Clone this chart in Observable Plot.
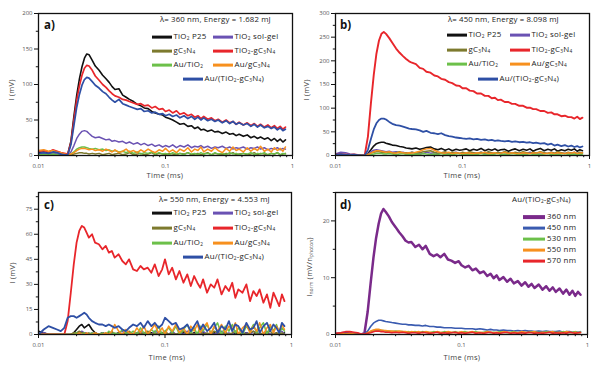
<!DOCTYPE html>
<html><head><meta charset="utf-8">
<script src="https://cdn.jsdelivr.net/npm/d3@7"></script>
<script src="https://cdn.jsdelivr.net/npm/@observablehq/plot@0.6"></script>
<style>
body{margin:0;background:#fff;font-family:"Open Sans",sans-serif}
#wrap{position:relative;width:600px;height:369px;overflow:hidden;background:#fff}
.panel{position:absolute}
.ov{position:absolute;white-space:nowrap;color:#222;line-height:1}
.ov sub{font-size:0.6em;vertical-align:-0.25em;line-height:0}
.sw{position:absolute;height:2.8px;transform:translateY(-50%)}
</style>
</head><body><div id="wrap"></div>
<script>
// ---------- shared time axis (ms) ----------
const time = [
0.0100,0.0110,0.0120,0.0130,0.0140,0.0150,0.0160,0.0170,
0.0180,0.0190,0.0200,0.0210,0.0220,0.0230,0.0240,0.0250,
0.0265,0.028,0.030,0.032,0.034,0.036,0.038,0.040,
0.043,0.046,0.049,0.052,0.056,0.060,0.064,0.068,
0.073,0.078,0.083,0.089,0.095,0.100,0.107,0.114,
0.122,0.130,0.140,0.150,0.160,0.170,0.180,0.190,
0.200,0.215,0.230,0.245,0.260,0.280,0.300,0.320,
0.340,0.360,0.380,0.410,0.440,0.470,0.500,0.530,
0.560,0.600,0.640,0.680,0.720,0.760,0.800,0.840,
0.880];

// ---------- tick labels ----------
const xTicks = [0.01, 0.1, 1];
const xMinor = [0.02,0.03,0.04,0.05,0.06,0.07,0.08,0.09,0.2,0.3,0.4,0.5,0.6,0.7,0.8,0.9];
const yTicksA = [0,50,100,150,200];
const yMinorA = [25,75,125,175];
const yTicksB = [0,50,100,150,200,250,300];
const yMinorB = [25,75,125,175,225,275];
const yTicksC = [0,15,30,45,60,75];
const yMinorC = [7.5,22.5,37.5,52.5,67.5,82.5];
const yTicksD = [0,10,20];
const yMinorD = [5,15,25];

// ---------- series names / colours ----------
const seriesNames = ["TiO<sub>2</sub> P25","TiO<sub>2</sub> sol-gel","gC<sub>3</sub>N<sub>4</sub>","TiO<sub>2</sub>-gC<sub>3</sub>N<sub>4</sub>","Au/TiO<sub>2</sub>","Au/gC<sub>3</sub>N<sub>4</sub>","Au/(TiO<sub>2</sub>-gC<sub>3</sub>N<sub>4</sub>)"];
const seriesColors = ["#111111","#6a52b3","#7d7a2e","#e8262b","#6cc04a","#f7901e","#2e4fa5"];
const dNames = ["360 nm","450 nm","530 nm","550 nm","570 nm"];
const dColors = ["#7a2a8a","#3a5bb0","#6cc04a","#f7901e","#e8262b"];

// ---------- panel a : 360 nm ----------
const aP25 = [4,5,3,4,5,3,2,2, 20,55,85,108,125,137,143,142, 134,126,120,113,108,103,97,93, 94,85,82,79,76,72,70,67, 66,62,60,58,57,54,52,50, 47,44,45,41,42,38,40,36, 37,34,36,33,34,31,33,30, 31,28,30,27,29,25,27,24, 26,23,25,21,24,20,23,19, 22];
const aSolGel = [2,3,2,3,2,1,1,0, 5,14,24,30,34,35,34,31, 27,25,26,24,22,23,20,21, 19,20,17,19,16,18,15,17, 14,16,13,15,12,14,12,15, 11,14,12,15,11,13,12,14, 11,13,10,12,11,13,10,12, 9,11,10,12,9,11,10,12, 9,11,8,10,9,11,8,10, 9];
const aGCN = [1,1,0,1,0,0,0,0, 1,2,3,4,4,3,3,2, 3,2,3,1,2,3,1,2, 3,1,2,4,1,2,3,1, 2,4,1,3,2,1,3,2, 1,3,2,4,1,2,3,1, 2,4,1,3,2,1,3,2, 4,1,2,3,1,2,4,1, 3,2,1,3,2,4,1,2, 3];
const aTiGCN = [6,7,5,8,6,4,3,2, 18,50,78,98,113,123,127,126, 120,112,106,100,96,91,87,84, 82,79,78,76,74,72,73,70, 71,67,69,65,66,62,64,60, 63,58,60,56,58,54,56,52, 55,51,53,49,51,47,50,46, 48,44,47,43,46,42,45,41, 44,40,43,39,42,38,41,37, 40];
const aAuTi = [1,2,1,2,1,0,0,0, 2,5,9,11,12,12,11,10, 9,10,8,9,7,8,6,7, 5,6,4,6,3,5,2,4, 3,5,2,4,2,3,1,4, 2,3,1,4,2,3,1,4, 2,3,1,4,2,3,1,4, 2,3,1,3,2,4,1,3, 2,4,1,3,2,4,1,3, 2];
const aAuGCN = [7,8,6,7,5,4,2,1, 2,4,7,9,10,10,9,8, 9,7,8,6,9,7,5,8, 4,6,9,5,7,4,8,5, 9,6,4,8,6,10,5,8, 4,9,6,11,5,9,7,12, 5,9,6,11,7,4,10,6, 12,7,9,5,11,6,10,7, 13,6,9,5,11,7,10,6, 12];
const aAuTiGCN = [3,4,3,5,4,2,1,1, 15,42,68,86,99,107,110,109, 104,99,95,90,87,82,78,75, 79,73,71,69,67,65,66,62, 63,60,61,58,59,56,58,55, 57,53,56,52,55,51,54,50, 53,49,51,48,50,46,49,45, 48,44,46,43,45,41,44,40, 43,39,41,38,40,36,39,35, 37];

// ---------- panel b : 450 nm ----------
const bP25 = [1,2,1,1,0,0,0,0, 4,12,20,25,27,28,28,26, 24,22,21,19,18,16,15,14, 16,13,15,17,18,14,12,15, 11,14,10,13,11,12,14,10, 13,11,15,10,13,11,14,10, 12,13,9,12,14,10,13,11, 14,9,12,15,10,13,11,14, 9,12,10,13,11,14,9,12, 10];
const bSolGel = [3,7,6,3,2,1,0,0, 3,8,11,12,11,10,9,8, 9,7,8,6,7,5,6,7, 5,6,4,7,5,6,4,5, 6,4,5,7,4,6,5,4, 6,5,7,4,6,5,4,6, 5,7,4,6,5,4,6,5, 7,4,5,6,4,5,7,4, 6,5,4,6,5,7,4,5, 6];
const bGCN = [1,1,1,0,0,0,0,0, 2,5,7,8,8,7,6,6, 7,5,6,8,5,6,4,7, 5,6,8,9,10,7,5,6, 8,5,7,6,4,7,5,8, 6,4,7,5,8,6,4,7, 5,8,6,4,7,5,8,6, 4,7,5,8,6,4,7,5, 8,6,4,7,5,6,4,7, 5];
const bTiGCN = [2,3,2,1,2,1,0,1, 40,110,170,215,243,257,261,257, 248,238,226,217,210,204,199,196, 193,185,183,177,175,169,167,162, 160,155,153,148,147,142,142,137, 136,131,131,126,126,121,122,117, 118,113,113,109,109,105,105,101, 101,98,98,94,94,90,91,87, 87,83,84,81,81,78,82,77, 80];
const bAuTi = [0,1,1,0,0,0,0,0, 1,2,3,4,4,4,3,3, 4,3,2,3,4,2,3,2, 3,2,4,3,2,3,2,4, 2,3,2,3,4,2,3,2, 3,2,4,2,3,2,3,4, 2,3,2,4,3,2,3,2, 4,2,3,2,3,4,2,3, 2,3,4,2,3,2,3,2, 3];
const bAuGCN = [0,1,1,1,0,0,0,0, 2,5,8,10,10,9,8,7, 8,6,5,7,6,5,6,5, 7,9,12,14,15,11,8,6, 5,7,4,6,5,4,6,5, 4,6,5,7,4,5,6,4, 5,7,4,6,5,4,6,5, 4,6,5,7,4,5,6,4, 6,5,4,6,5,7,4,5, 6];
const bAuTiGCN = [2,3,2,1,2,1,0,0, 12,35,55,68,75,78,78,76, 71,67,64,63,61,59,57,56, 55,53,50,52,48,47,45,47, 43,41,40,38,37,36,35,36, 34,35,33,34,32,33,31,32, 31,30,31,29,30,28,29,27, 28,26,27,25,26,23,25,21, 23,20,22,19,21,18,20,17, 19];

// ---------- panel c : 550 nm ----------
const cP25 = [2,1,0,0,0,0,0,0, 0,1,3,5,6,4,5,6, 3,1,0,1,0,1,0,0, 1,0,0,1,0,0,1,0, 0,1,0,0,1,0,0,1, 0,0,1,0,0,1,0,0, 1,0,0,1,0,0,1,0, 0,1,0,0,1,0,0,1, 0,0,1,0,0,1,0,0, 1];
const cSolGel = [0,1,0,0,0,0,0,0, 0,0,1,1,2,1,1,0, 1,0,0,1,0,0,1,0, 1,2,0,1,0,1,2,0, 1,0,2,1,0,1,0,2, 0,1,0,2,1,0,1,0, 2,0,1,0,1,2,0,1, 0,2,1,0,1,0,2,1, 0,1,2,0,1,0,1,2, 0];
const cGCN = [0,0,0,0,0,0,0,0, 0,1,1,2,1,1,0,1, 0,1,0,0,1,0,2,0, 1,0,1,2,0,1,0,1, 2,0,1,0,1,2,0,1, 0,1,2,0,1,0,1,2, 0,1,0,2,1,0,1,0, 1,2,0,1,0,1,2,0, 1,0,1,2,0,1,0,1, 0];
const cTiGCN = [0,0,0,0,0,0,0,8, 25,42,55,62,65,64,61,58, 60,55,54,51,53,49,50,46, 48,44,42,45,39,38,41,39, 40,37,42,35,39,45,36,40, 33,38,31,36,29,35,31,28, 33,25,30,28,33,24,29,26, 31,22,27,25,30,20,26,23, 27,19,24,16,25,21,17,24, 20];
const cAuTi = [0,0,0,0,0,0,0,0, 0,0,1,0,0,1,0,0, 1,0,0,1,0,2,0,1, 0,3,1,0,2,0,4,1, 0,3,1,5,0,2,4,1, 5,0,3,6,1,4,0,5, 2,6,1,4,7,0,5,2, 6,1,4,0,5,2,6,1, 4,7,0,5,2,6,1,4, 2];
const cAuGCN = [0,0,0,0,0,0,0,0, 0,0,0,1,0,0,1,0, 0,1,0,0,1,0,2,6, 2,0,3,1,0,4,1,5, 0,3,6,1,4,0,5,2, 6,1,4,0,5,2,6,1, 4,7,0,5,2,6,1,5, 3,7,0,4,6,1,5,2, 7,0,4,6,1,5,2,6, 3];
const cAuTiGCN = [0,3,5,4,3,2,4,10, 11,11,10,11,12,13,12,10, 8,7,6,6,5,6,5,4, 5,3,2,4,6,5,7,4, 8,5,7,4,6,10,8,6, 7,3,4,6,2,5,8,3, 6,2,4,7,1,5,3,8, 2,6,5,1,7,3,4,8, 1,5,7,2,6,4,1,7, 5];

// ---------- panel d : normalised Au/(TiO2-gC3N4) ----------
const d360 = [0.1,0.2,0.3,0.2,0.1,0.1,0,0.3, 4,9,13.5,17,19.5,21.3,22.1,21.6, 20.8,19.8,18.9,18,17.3,16.5,16.2,16.3, 15.4,15.8,15.0,15.6,14.2,13.8,14.1,13.6, 14.2,13.2,13.0,12.6,12.9,12.2,11.8,12.1, 11.3,11.6,10.8,11.1,10.3,10.7,9.9,10.4, 9.6,10.1,9.3,9.8,9.0,9.4,8.6,9.2, 8.4,8.9,8.2,8.8,7.9,8.5,7.7,8.3, 7.5,8.1,7.2,7.9,7.0,7.7,6.8,7.5, 7.0];
const d450 = [0.1,0.1,0.2,0.1,0.1,0,0,0.1, 0.6,1.4,2.0,2.3,2.5,2.5,2.4,2.3, 2.2,2.1,2.0,1.9,1.8,1.8,1.7,1.7, 1.6,1.6,1.5,1.6,1.4,1.4,1.3,1.3, 1.2,1.2,1.2,1.1,1.1,1.1,1.0,1.0, 1.0,0.9,1.0,0.9,0.8,0.9,0.8,0.8, 0.7,0.8,0.7,0.7,0.6,0.7,0.6,0.7, 0.6,0.6,0.5,0.6,0.5,0.6,0.5,0.5, 0.5,0.6,0.4,0.5,0.5,0.4,0.5,0.4, 0.5];
const d530 = [0.1,0.1,0.1,0.1,0,0,0,0, 0.2,0.5,0.7,0.8,0.8,0.7,0.7,0.6, 0.6,0.5,0.6,0.5,0.5,0.4,0.5,0.4, 0.5,0.3,0.5,0.4,0.3,0.5,0.4,0.3, 0.5,0.4,0.3,0.5,0.3,0.4,0.5,0.3, 0.4,0.5,0.3,0.4,0.5,0.3,0.4,0.3, 0.5,0.4,0.3,0.4,0.5,0.3,0.4,0.3, 0.4,0.5,0.3,0.4,0.3,0.5,0.4,0.3, 0.4,0.3,0.5,0.4,0.3,0.4,0.5,0.3, 0.4];
const d550 = [0.1,0.2,0.1,0.2,0.1,0,0,0, 0.3,0.6,0.8,0.9,0.9,0.8,0.7,0.7, 0.6,0.6,0.5,0.6,0.5,0.5,0.4,0.5, 0.4,0.5,0.3,0.5,0.4,0.3,0.5,0.4, 0.3,0.5,0.4,0.3,0.4,0.5,0.3,0.4, 0.5,0.3,0.4,0.3,0.5,0.4,0.3,0.4, 0.3,0.5,0.4,0.3,0.4,0.3,0.5,0.4, 0.3,0.4,0.5,0.3,0.4,0.3,0.4,0.5, 0.3,0.4,0.3,0.5,0.4,0.3,0.4,0.3, 0.4];
const d570 = [0.2,0.3,0.5,0.5,0.4,0.3,0.1,0.1, 0.2,0.3,0.5,0.6,0.6,0.5,0.5,0.4, 0.4,0.3,0.4,0.3,0.4,0.3,0.2,0.3, 0.3,0.2,0.4,0.3,0.2,0.3,0.4,0.2, 0.3,0.2,0.3,0.4,0.2,0.3,0.2,0.3, 0.4,0.2,0.3,0.2,0.3,0.4,0.2,0.3, 0.2,0.3,0.4,0.2,0.3,0.2,0.3,0.2, 0.4,0.3,0.2,0.3,0.2,0.3,0.4,0.2, 0.3,0.2,0.3,0.2,0.4,0.3,0.2,0.3, 0.3];

// ---------- layout ----------
const wrap = document.getElementById("wrap");
const pts = vals => time.map((t, i) => ({t, v: vals[i]}));

function text(parent, html, x, y, o = {}) {
  const d = document.createElement("div");
  d.className = "ov";
  d.innerHTML = html;
  d.style.left = x + "px";
  d.style.top = y + "px";
  d.style.fontSize = (o.size || 8) + "px";
  if (o.weight) d.style.fontWeight = o.weight;
  if (o.color) d.style.color = o.color;
  if (o.ls) d.style.letterSpacing = o.ls + "px";
  let tr = o.anchor === "middle" ? "translate(-50%,-50%)" : "translate(0,-50%)";
  if (o.rotate) tr = "translate(-50%,-50%) rotate(-90deg)";
  d.style.transform = tr;
  parent.appendChild(d);
}
function swatch(parent, color, x, y, w, h) {
  const s = document.createElement("div");
  s.className = "sw";
  s.style.left = x + "px"; s.style.top = y + "px";
  s.style.width = w + "px"; s.style.background = color;
  if (h) s.style.height = h + "px";
  parent.appendChild(s);
}

function panel(p) {
  const box = document.createElement("div");
  box.className = "panel";
  box.style.left = p.left + "px"; box.style.top = p.top + "px";
  box.style.width = "300px"; box.style.height = p.height + "px";
  wrap.appendChild(box);
  const marks = [];
  p.series.forEach((vals, k) => marks.push(
    Plot.line(pts(vals), {x: "t", y: "v", stroke: p.colors[k], strokeWidth: p.widths[k], clip: true})
  ));
  marks.push(
    Plot.frame({stroke: "#111", strokeWidth: 1.3}),
    Plot.axisX({ticks: xTicks, tickSize: 4, tickFormat: () => "", label: null, stroke: "#111"}),
    Plot.axisX({ticks: xMinor, tickSize: 2.2, tickFormat: () => "", label: null, stroke: "#111"}),
    Plot.axisX({ticks: xTicks, tickSize: 0, tickPadding: 8, tickFormat: d => String(d), fontSize: 6, color: "#555", label: null}),
    Plot.axisY({ticks: p.yTicks, tickSize: 4, tickFormat: () => "", label: null, stroke: "#111"}),
    Plot.axisY({ticks: p.yMinor, tickSize: 2.2, tickFormat: () => "", label: null, stroke: "#111"}),
    Plot.axisY({ticks: p.yTicks, tickSize: 0, tickPadding: 6, tickFormat: d => String(d), fontSize: 6, color: "#555", label: null})
  );
  const svg = Plot.plot({
    width: 300, height: p.height,
    marginLeft: p.ml, marginRight: p.mr, marginTop: p.mt, marginBottom: p.mb,
    style: {fontFamily: "Open Sans, sans-serif", background: "white"},
    x: {type: "log", domain: [0.01, 1]},
    y: {domain: p.yDomain},
    marks
  });
  box.appendChild(svg);
  text(box, p.letter, p.letterX, p.letterY, {size: 11.5, weight: 700, color: "#111"});
  text(box, "Time (ms)", p.xTitleX, p.xTitleY, {size: 7.5, anchor: "middle", color: "#444", ls: 0.3});
  text(box, p.yTitle, p.yTitleX, p.yTitleY, {size: 7.5, rotate: true, color: "#444", ls: 0.3});
  return box;
}

function legend7(box, L) {
  text(box, L.title, L.titleX, L.titleY, {size: 7.8, ls: 0.15});
  seriesNames.forEach((name, i) => {
    let x, y;
    if (i < 6) { y = L.rows[Math.floor(i / 2)]; x = i % 2 === 0 ? L.col1 : L.col2; }
    else { y = L.rows[3]; x = L.col4; }
    swatch(box, seriesColors[i], x, y, 20);
    text(box, name, x + 21.5, y, {size: 7.9, ls: 0.25});
  });
}

const W7 = [1.6,1.5,1.5,1.7,1.5,1.5,1.7];

const pa = panel({left: 0, top: 0, height: 185, ml: 38, mr: 8, mt: 13, mb: 30,
  yDomain: [0, 200], yTicks: yTicksA, yMinor: yMinorA,
  series: [aP25, aSolGel, aGCN, aTiGCN, aAuTi, aAuGCN, aAuTiGCN], colors: seriesColors, widths: W7,
  letter: "a)", letterX: 44, letterY: 25, xTitleX: 165, xTitleY: 176, yTitle: "I (mV)", yTitleX: 12, yTitleY: 90});
legend7(pa, {title: "λ= 360 nm, Energy = 1.682 mJ", titleX: 160, titleY: 20, rows: [37, 51, 65, 79], col1: 152, col2: 213, col4: 183});

const pb = panel({left: 300, top: 0, height: 185, ml: 35, mr: 11, mt: 13, mb: 30,
  yDomain: [0, 300], yTicks: yTicksB, yMinor: yMinorB,
  series: [bP25, bSolGel, bGCN, bTiGCN, bAuTi, bAuGCN, bAuTiGCN], colors: seriesColors, widths: [1.6,1.5,1.5,1.9,1.5,1.5,1.8],
  letter: "b)", letterX: 40, letterY: 25, xTitleX: 162, xTitleY: 176, yTitle: "I (mV)", yTitleX: 7, yTitleY: 90});
legend7(pb, {title: "λ= 450 nm, Energy = 8.098 mJ", titleX: 148, titleY: 20, rows: [35, 50, 64, 79], col1: 147, col2: 210, col4: 178});

const pc = panel({left: 0, top: 185, height: 184, ml: 38, mr: 9, mt: 7, mb: 35,
  yDomain: [0, 85], yTicks: yTicksC, yMinor: yMinorC,
  series: [cP25, cSolGel, cGCN, cTiGCN, cAuTi, cAuGCN, cAuTiGCN], colors: seriesColors, widths: [1.6,1.5,1.5,1.8,1.5,1.5,1.8],
  letter: "c)", letterX: 44, letterY: 20, xTitleX: 167, xTitleY: 173, yTitle: "I (mV)", yTitleX: 13, yTitleY: 88});
legend7(pc, {title: "λ= 550 nm, Energy = 4.553 mJ", titleX: 159, titleY: 15, rows: [28, 43, 58, 72], col1: 152, col2: 213, col4: 183});

const pd = panel({left: 300, top: 185, height: 184, ml: 35, mr: 13, mt: 7, mb: 35,
  yDomain: [0, 25], yTicks: yTicksD, yMinor: yMinorD,
  series: [d360, d450, d530, d550, d570], colors: dColors, widths: [2.5,1.6,1.6,1.6,1.6],
  letter: "d)", letterX: 40, letterY: 20, xTitleX: 162, xTitleY: 173,
  yTitle: "I<sub>norm</sub> (mV/n<sub>photon</sub>)", yTitleX: 10, yTitleY: 82});
text(pd, "Au/(TiO<sub>2</sub>-gC<sub>3</sub>N<sub>4</sub>)", 212, 15, {size: 7.9, ls: 0.2});
[32, 43, 54, 65, 76].forEach((y, i) => {
  swatch(pd, dColors[i], 223, y, 22, i === 0 ? 3.8 : 2.8);
  text(pd, dNames[i], 247, y, {size: 7.9, ls: 0.25});
});
</script>
</body></html>
